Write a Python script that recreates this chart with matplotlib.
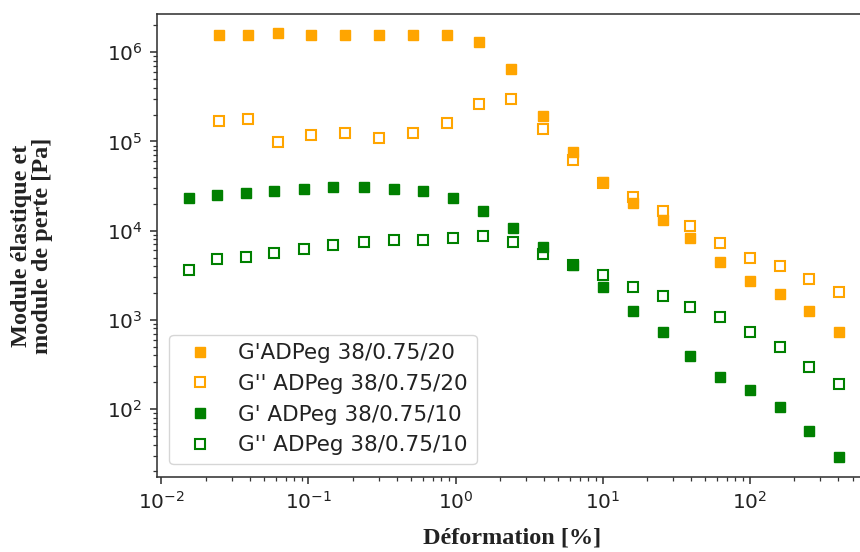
import numpy as np
import matplotlib
matplotlib.use('Agg')
import matplotlib.pyplot as plt

# Strain values [%]
strain_20 = [0.0245, 0.0391, 0.0625, 0.1038, 0.1766, 0.3006, 0.514, 0.875, 1.442, 2.393,
             3.93, 6.27, 10, 16, 25.6, 39.4, 63, 100, 160, 255, 407]
strain_10 = [0.0154, 0.0238, 0.0379, 0.0583, 0.0929, 0.148, 0.238, 0.380, 0.604, 0.959,
             1.535, 2.455, 3.93, 6.27, 10, 16, 25.6, 39.4, 63, 100, 160, 255, 407]

# Moduli [Pa]
g1_20 = [1.55e6, 1.55e6, 1.63e6, 1.55e6, 1.55e6, 1.55e6, 1.55e6, 1.55e6, 1.31e6, 6.44e5,
         1.92e5, 7.7e4, 3.54e4, 2.03e4, 1.32e4, 8.2e3, 4.46e3, 2.73e3, 1.95e3, 1.26e3, 726]
g2_20 = [1.70e5, 1.80e5, 9.87e4, 1.17e5, 1.24e5, 1.10e5, 1.24e5, 1.61e5, 2.65e5, 2.97e5,
         1.38e5, 6.2e4, 3.45e4, 2.37e4, 1.68e4, 1.14e4, 7.35e3, 4.98e3, 4.02e3, 2.87e3, 2.07e3]
g1_10 = [2.34e4, 2.49e4, 2.63e4, 2.77e4, 2.91e4, 3.09e4, 3.09e4, 2.91e4, 2.77e4, 2.34e4,
         1.68e4, 1.08e4, 6.6e3, 4.13e3, 2.34e3, 1.26e3, 726, 394, 228, 164, 105, 56.8, 29.3]
g2_10 = [3.62e3, 4.78e3, 5.03e3, 5.58e3, 6.24e3, 6.97e3, 7.41e3, 7.87e3, 7.87e3, 8.22e3,
         8.73e3, 7.41e3, 5.43e3, 4.1e3, 3.21e3, 2.32e3, 1.85e3, 1.41e3, 1.07e3, 726, 493, 299, 192]

plt.rcParams['font.size'] = 14.4
plt.rcParams['axes.linewidth'] = 1.15
plt.rcParams['axes.edgecolor'] = '#333333'
for a in ('xtick', 'ytick'):
    plt.rcParams[a + '.major.size'] = 5
    plt.rcParams[a + '.major.width'] = 1.15
    plt.rcParams[a + '.major.pad'] = 5
    plt.rcParams[a + '.minor.size'] = 2.9
    plt.rcParams[a + '.minor.width'] = 0.9
    plt.rcParams[a + '.color'] = '#333333'
    plt.rcParams[a + '.labelcolor'] = '#222222'

fig = plt.figure(figsize=(8.6, 5.52), dpi=100)
ax = fig.add_axes([0.182, 0.1359, 0.8317, 0.8388])

ms = 7.5
ax.plot(strain_20, g1_20, 's', color='orange', ms=ms, label="G'ADPeg 38/0.75/20")
ax.plot(strain_20, g2_20, 's', color='orange', mfc='none', mew=1.5, ms=ms,
        label="G'' ADPeg 38/0.75/20")
ax.plot(strain_10, g1_10, 's', color='green', ms=ms, label="G' ADPeg 38/0.75/10")
ax.plot(strain_10, g2_10, 's', color='green', mfc='none', mew=1.5, ms=ms,
        label="G'' ADPeg 38/0.75/10")

ax.set_xscale('log')
ax.set_yscale('log')
ax.set_xlim(10**-2.033, 10**2.83)
ax.set_ylim(10**1.238, 10**6.43)

labfont = dict(family='Liberation Serif', weight='bold', size=17.5, color='#222222')
ax.set_xlabel('Déformation [%]', **labfont)
ax.set_ylabel('Module élastique et\nmodule de perte [Pa]', linespacing=1.0, **labfont)
ax.xaxis.set_label_coords(0.497, -0.11)
ax.yaxis.set_label_coords(-0.145, 0.5)

leg = ax.legend(loc='lower left', fontsize=15.5, borderaxespad=0.6)
for t in leg.get_texts():
    t.set_color('#222222')

plt.savefig('out.png', dpi=100)
